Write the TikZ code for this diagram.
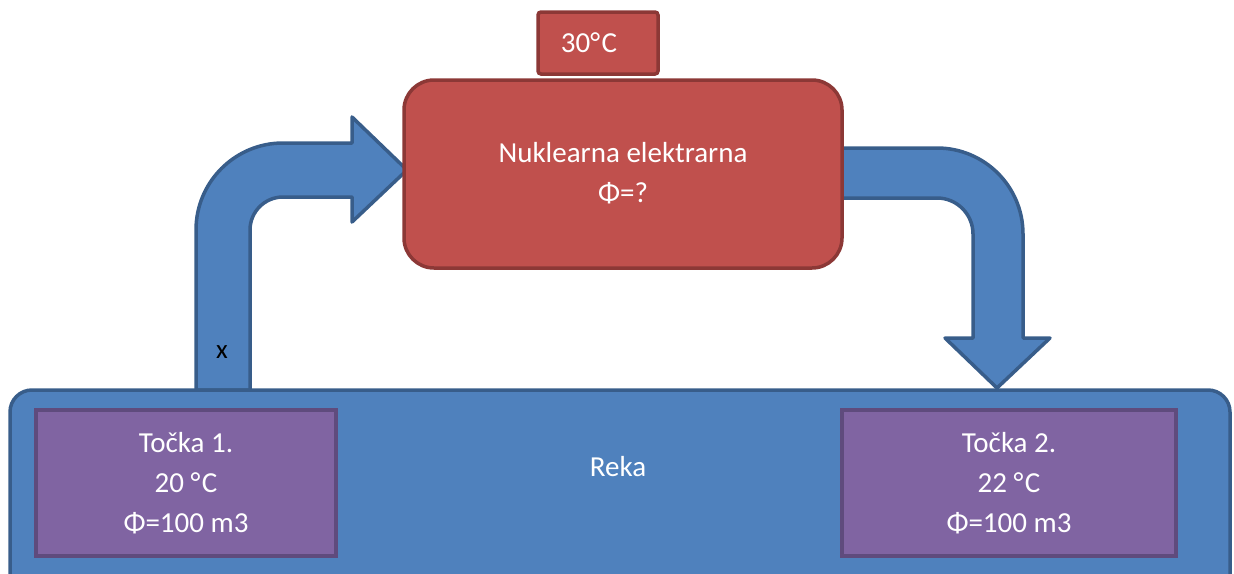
\documentclass[tikz,border=0pt]{standalone}
\usepackage{fontspec}
\setmainfont{Carlito}
\definecolor{bfill}{HTML}{4F81BD}
\definecolor{bline}{HTML}{385D8A}
\definecolor{rfill}{HTML}{C0504D}
\definecolor{rline}{HTML}{8C3836}
\definecolor{pfill}{HTML}{8064A2}
\definecolor{pline}{HTML}{5F4B7D}
\newcommand{\degC}{°\kern1.5pt C}
\tikzset{
  blockarrow/.style={fill=bfill,draw=bline,line width=3.5pt,line join=round},
  redbox/.style={fill=rfill,draw=rline,line width=3.5pt},
  purplebox/.style={fill=pfill,draw=pline,line width=3.5pt},
  river/.style={fill=bfill,draw=bline,line width=3.5pt},
  wtext/.style={text=white,font=\fontsize{29}{40}\selectfont,align=center,inner sep=0pt},
}
\begin{document}
\begin{tikzpicture}[x=1pt,y=1pt]
\useasboundingbox (0,0) rectangle (1234,-573);
\clip (0,0) rectangle (1234,-573);
% block arrows
\draw[blockarrow] (196,-390) -- (196,-230) arc[start angle=180,end angle=90,radius=87]
  -- (352,-143) -- (352,-117) -- (407,-170) -- (352,-222) -- (352,-197) -- (283,-197)
  arc[start angle=90,end angle=180,radius=33] -- (250,-390) -- cycle;
\draw[blockarrow] (842,-148) -- (937,-148) arc[start angle=90,end angle=0,radius=86]
  -- (1023,-338) -- (1050,-338) -- (997,-388) -- (945,-338) -- (973,-338) -- (973,-234)
  arc[start angle=0,end angle=90,radius=36] -- (842,-198) -- cycle;
\node[inner sep=0pt,font=\fontsize{27}{30}\selectfont] (x) at (222,-352) {x};
% river
\draw[river,rounded corners=22pt] (10,-390) rectangle (1230,-600);
\node[wtext] (reka) at (618,-467) {Reka};
% points
\draw[purplebox] (36,-410) rectangle (336,-556);
\node[wtext] (p1) at (186,-483) {Točka 1.\\20 \degC\\Φ=100 m3};
\draw[purplebox] (842,-410) rectangle (1176,-556);
\node[wtext] (p2) at (1009,-483) {Točka 2.\\22 \degC\\Φ=100 m3};
% reactor
\draw[redbox,rounded corners=30pt] (404,-80) rectangle (842,-268);
\node[wtext] (reactor) at (623,-173) {Nuklearna elektrarna\\Φ=?};
\draw[redbox,rounded corners=3pt] (538,-12) rectangle (658,-74);
\node[wtext] (temp) at (589,-43) {30\degC};
\end{tikzpicture}
\end{document}
